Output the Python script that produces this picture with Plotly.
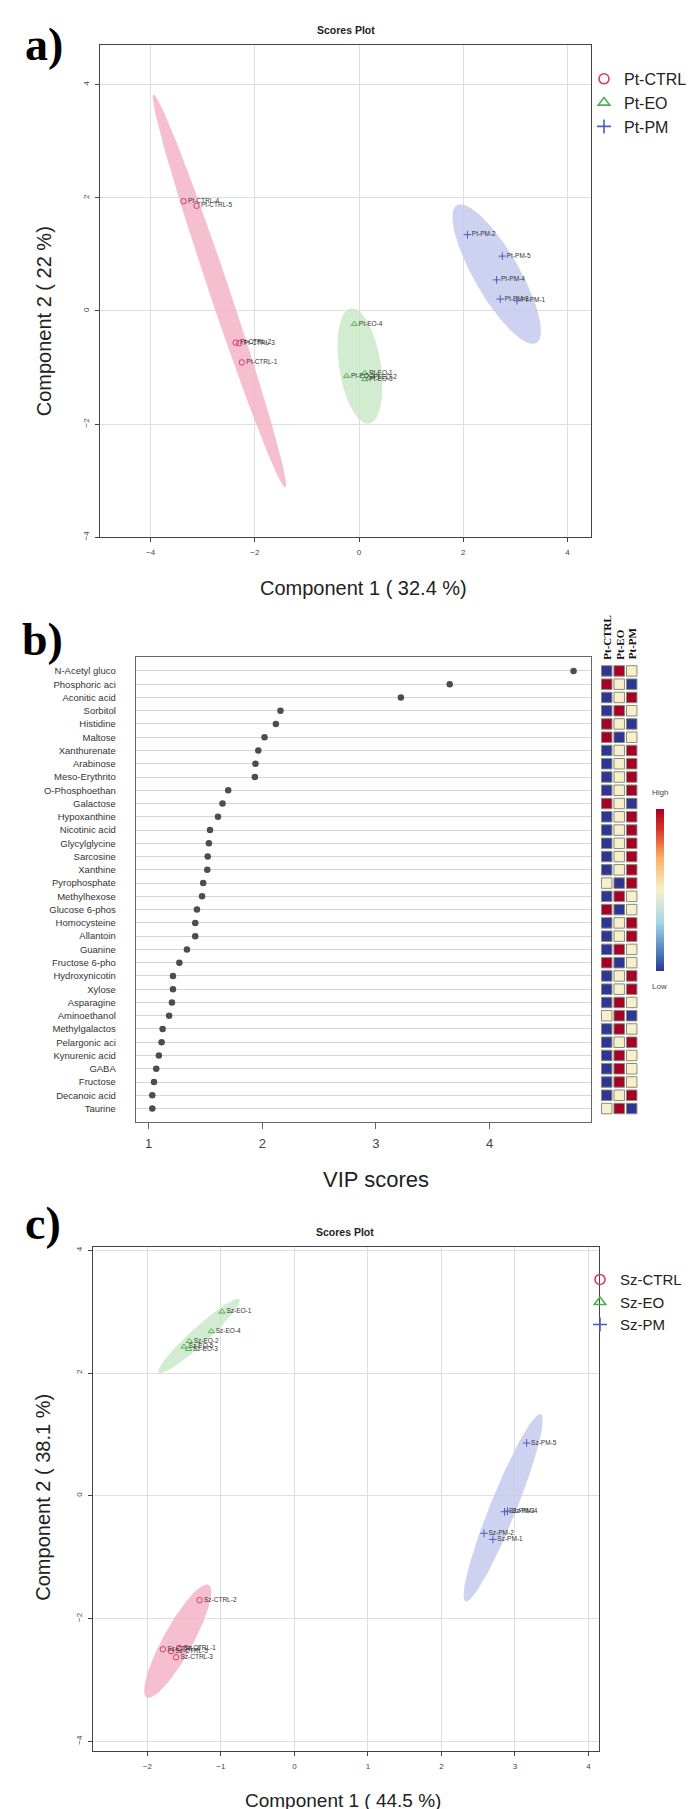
import numpy as np
import plotly.graph_objects as go

W, H = 695, 1809
def px_x(p): return p / W
def px_y(p): return 1 - p / H

FONT = "Liberation Sans"
SERIF = "Liberation Serif"

# ---------------- Panel a data (Pt) ----------------
a_ctrl_names = ["Pt-CTRL-4", "Pt-CTRL-5", "Pt-CTRL-2", "Pt-CTRL-3", "Pt-CTRL-1"]
a_ctrl_x = [-3.37, -3.12, -2.37, -2.30, -2.25]
a_ctrl_y = [1.94, 1.86, -0.56, -0.57, -0.91]
a_eo_names = ["Pt-EO-4", "Pt-EO-5", "Pt-EO-1", "Pt-EO-2", "Pt-EO-3"]
a_eo_x = [-0.09, -0.24, 0.11, 0.19, 0.11]
a_eo_y = [-0.23, -1.15, -1.10, -1.18, -1.21]
a_pm_names = ["Pt-PM-2", "Pt-PM-5", "Pt-PM-4", "Pt-PM-3", "Pt-PM-1"]
a_pm_x = [2.08, 2.75, 2.64, 2.71, 3.03]
a_pm_y = [1.35, 0.97, 0.55, 0.21, 0.18]
a_groups = ["Pt-CTRL", "Pt-EO", "Pt-PM"]

# ---------------- Panel b data (VIP) ----------------
vip_names = ["N-Acetyl gluco", "Phosphoric aci", "Aconitic acid", "Sorbitol", "Histidine",
             "Maltose", "Xanthurenate", "Arabinose", "Meso-Erythrito", "O-Phosphoethan",
             "Galactose", "Hypoxanthine", "Nicotinic acid", "Glycylglycine", "Sarcosine",
             "Xanthine", "Pyrophosphate", "Methylhexose", "Glucose 6-phos", "Homocysteine",
             "Allantoin", "Guanine", "Fructose 6-pho", "Hydroxynicotin", "Xylose",
             "Asparagine", "Aminoethanol", "Methylgalactos", "Pelargonic aci", "Kynurenic acid",
             "GABA", "Fructose", "Decanoic acid", "Taurine"]
vip_scores = [4.74, 3.65, 3.22, 2.16, 2.12, 2.02, 1.965, 1.94, 1.935, 1.70,
              1.65, 1.61, 1.54, 1.53, 1.52, 1.516, 1.48, 1.47, 1.425, 1.41,
              1.41, 1.337, 1.27, 1.214, 1.214, 1.205, 1.18, 1.123, 1.114, 1.09,
              1.067, 1.047, 1.032, 1.032]
heat_cols = ["Pt-CTRL", "Pt-EO", "Pt-PM"]
# -1 = low (blue), 0 = mid (cream), 1 = high (red)
heat_ctrl = [-1, 1, -1, -1, 1, 1, -1, -1, -1, -1, 1, -1, -1, -1, -1, -1, 0, -1, 1, -1,
             -1, -1, 1, -1, -1, -1, 0, -1, -1, -1, -1, -1, -1, 0]
heat_eo = [1, 0, 0, 1, 0, -1, 0, 0, 0, 0, 0, 0, 0, 0, 0, 0, -1, 1, -1, 0,
           0, 1, -1, 0, 0, 1, 1, 1, 0, 1, 1, 1, 0, 1]
heat_pm = [0, -1, 1, 0, -1, 0, 1, 1, 1, 1, -1, 1, 1, 1, 1, 1, 1, 0, 0, 1,
           1, 0, 0, 1, 1, 0, -1, 0, 1, 0, 0, 0, 1, -1]
vip_ticks = [1, 2, 3, 4]

# ---------------- Panel c data (Sz) ----------------
c_ctrl_names = ["Sz-CTRL-2", "Sz-CTRL-4", "Sz-CTRL-5", "Sz-CTRL-1", "Sz-CTRL-3"]
c_ctrl_x = [-1.29, -1.79, -1.68, -1.57, -1.61]
c_ctrl_y = [-1.70, -2.50, -2.53, -2.48, -2.63]
c_eo_names = ["Sz-EO-1", "Sz-EO-4", "Sz-EO-2", "Sz-EO-5", "Sz-EO-3"]
c_eo_x = [-0.985, -1.13, -1.43, -1.50, -1.44]
c_eo_y = [3.00, 2.68, 2.52, 2.43, 2.39]
c_pm_names = ["Sz-PM-5", "Sz-PM-3", "Sz-PM-4", "Sz-PM-2", "Sz-PM-1"]
c_pm_x = [3.16, 2.86, 2.90, 2.58, 2.70]
c_pm_y = [0.86, -0.26, -0.25, -0.61, -0.71]
c_groups = ["Sz-CTRL", "Sz-EO", "Sz-PM"]

# ---------------- styles ----------------
col_mark = ["#DC3A64", "#4DB04D", "#4A5CC4"]
col_fill = ["rgba(245,180,200,0.85)", "rgba(198,231,198,0.8)", "rgba(196,202,238,0.85)"]
symbols = ["circle-open", "triangle-up-open", "cross-thin-open"]


def ellipse(xs, ys, t=2.4477, n=160):
    x = np.asarray(xs, float)
    y = np.asarray(ys, float)
    cov = np.cov(x, y)
    vals, vecs = np.linalg.eigh(cov)
    ang = np.linspace(0, 2 * np.pi, n)
    circ = np.vstack([np.cos(ang), np.sin(ang)])
    pts = vecs @ (np.sqrt(np.maximum(vals, 0))[:, None] * circ) * t
    return x.mean() + pts[0], y.mean() + pts[1]


fig = go.Figure()


def add_scores(xs_list, ys_list, names_list, groups, xa, ya, legend):
    for i in range(3):
        ex, ey = ellipse(xs_list[i], ys_list[i])
        fig.add_trace(go.Scatter(x=ex, y=ey, mode="lines", fill="toself",
                                 fillcolor=col_fill[i], line=dict(width=0),
                                 hoverinfo="skip", showlegend=False, xaxis=xa, yaxis=ya))
    for i in range(3):
        fig.add_trace(go.Scatter(x=xs_list[i], y=ys_list[i], mode="markers+text",
                                 text=names_list[i], textposition="middle right",
                                 textfont=dict(size=6.5, color="#333", family=FONT),
                                 marker=dict(symbol=symbols[i], size=5.5,
                                             color=col_mark[i], line=dict(width=1, color=col_mark[i])),
                                 showlegend=False, xaxis=xa, yaxis=ya))
    for i in range(3):
        fig.add_trace(go.Scatter(x=[None], y=[None], mode="markers", name=groups[i],
                                 marker=dict(symbol=symbols[i], size=10,
                                             color=col_mark[i], line=dict(width=1.6, color=col_mark[i])),
                                 showlegend=True, legend=legend, xaxis=xa, yaxis=ya))


add_scores([a_ctrl_x, a_eo_x, a_pm_x], [a_ctrl_y, a_eo_y, a_pm_y],
           [a_ctrl_names, a_eo_names, a_pm_names], a_groups, "x", "y", "legend")
add_scores([c_ctrl_x, c_eo_x, c_pm_x], [c_ctrl_y, c_eo_y, c_pm_y],
           [c_ctrl_names, c_eo_names, c_pm_names], c_groups, "x4", "y4", "legend2")

# VIP dot plot
nrow = len(vip_names)
rows = [nrow - i for i in range(nrow)]
fig.add_trace(go.Scatter(x=vip_scores, y=rows, mode="markers",
                         marker=dict(size=6.5, color="#4d4d4d"),
                         showlegend=False, xaxis="x2", yaxis="y2"))

# heatmap cells as square markers
cs = [[0.0, "#2E3592"], [0.1, "#4575B4"], [0.3, "#A6D6E8"], [0.5, "#F6F1CC"],
      [0.7, "#FDAE61"], [0.88, "#D73027"], [1.0, "#A50026"]]
hx, hy, hv = [], [], []
for j, col in enumerate([heat_ctrl, heat_eo, heat_pm]):
    for i in range(nrow):
        hx.append(j)
        hy.append(rows[i])
        hv.append(col[i])
fig.add_trace(go.Scatter(x=hx, y=hy, mode="markers",
                         marker=dict(symbol="square", size=10.5, color=hv, colorscale=cs,
                                     cmin=-1, cmax=1, line=dict(width=1, color="#8a8a7a"),
                                     showscale=True,
                                     colorbar=dict(x=px_x(648), xanchor="left",
                                                   y=px_y(882.5), yanchor="middle",
                                                   len=161.6, lenmode="pixels",
                                                   thickness=8, thicknessmode="pixels",
                                                   outlinewidth=0, showticklabels=False,
                                                   ticks="", xpad=0, ypad=0)),
                         showlegend=False, xaxis="x3", yaxis="y5"))

score_axis = dict(showgrid=True, gridcolor="#DDDDDD", gridwidth=1, zeroline=False,
                  showline=True, mirror=True, linecolor="#444", linewidth=1,
                  ticks="outside", ticklen=4, tickcolor="#444",
                  tickfont=dict(size=8, color="#444", family=FONT))

fig.update_layout(
    width=W, height=H, margin=dict(l=0, r=0, t=0, b=0),
    paper_bgcolor="white", plot_bgcolor="white",
    xaxis=dict(score_axis, domain=[px_x(91.7), px_x(583.4)], range=[-4.98, 4.46],
               tickvals=[-4, -2, 0, 2, 4], anchor="y", ticklabelstandoff=3),
    yaxis=dict(score_axis, domain=[px_y(529.3), px_y(35.7)], range=[-4.0, 4.71],
               tickvals=[-4, -2, 0, 2, 4], tickangle=-90, anchor="x", ticklabelstandoff=3),
    xaxis2=dict(domain=[px_x(127.7), px_x(583.3)], range=[0.886, 4.896], tickvals=vip_ticks,
                showgrid=False, zeroline=False, showline=True, mirror=True, linecolor="#666",
                linewidth=1, ticks="outside", ticklen=6, tickcolor="#666",
                tickfont=dict(size=13, color="#444", family=FONT), anchor="y2",
                ticklabelstandoff=4),
    yaxis2=dict(domain=[px_y(1115), px_y(649.3)], range=[0.02, 35.06], tickvals=rows,
                ticktext=vip_names, showgrid=True, gridcolor="#D4D4D4", gridwidth=1,
                zeroline=False, showline=True, mirror=True, linecolor="#666", linewidth=1,
                ticks="", tickfont=dict(size=9.5, color="#333", family=FONT), anchor="x2",
                ticklabelstandoff=17),
    xaxis3=dict(domain=[px_x(592.45), px_x(629.95)], range=[-0.5, 2.5], visible=False,
                anchor="y5"),
    yaxis5=dict(domain=[px_y(1115), px_y(649.3)], range=[0.02, 35.06], visible=False,
                anchor="x3"),
    xaxis4=dict(score_axis, domain=[px_x(85), px_x(590.7)], range=[-2.74, 4.14],
                tickvals=[-2, -1, 0, 1, 2, 3, 4], anchor="y4", ticklabelstandoff=3),
    yaxis4=dict(score_axis, domain=[px_y(1746), px_y(1241)], range=[-4.16, 4.05],
                tickvals=[-4, -2, 0, 2, 4], tickangle=-90, anchor="x4", ticklabelstandoff=3),
    legend=dict(x=px_x(576), y=px_y(53), xanchor="left", yanchor="top",
                font=dict(size=16, family=FONT, color="#222"), bgcolor="rgba(0,0,0,0)",
                itemwidth=30, tracegroupgap=0),
    legend2=dict(x=px_x(572), y=px_y(1257), xanchor="left", yanchor="top",
                 font=dict(size=15, family=FONT, color="#222"), bgcolor="rgba(0,0,0,0)",
                 itemwidth=30, tracegroupgap=0),
)

ann = []
def A(text, x, y, size, family=FONT, color="#222", angle=0, xanchor="center", yanchor="middle", xref="paper"):
    ann.append(dict(text=text, x=x if xref != "paper" else px_x(x), y=px_y(y), xref=xref, yref="paper",
                    showarrow=False, font=dict(size=size, family=family, color=color),
                    textangle=angle, xanchor=xanchor, yanchor=yanchor))

A("<b>a)</b>", 36, 36, 46, family=SERIF, color="#000")
A("<b>b)</b>", 34, 632, 46, family=SERIF, color="#000")
A("<b>c)</b>", 35, 1217, 46, family=SERIF, color="#000")
A("<b>Scores Plot</b>", 338, 21.3, 10.5)
A("<b>Scores Plot</b>", 336.7, 1225.7, 10.5)
A("Component 1 ( 32.4 %)", 356, 580.7, 20)
A("Component 2 ( 22 %)", 36, 313, 20, angle=-90)
A("VIP scores", 368, 1173, 22)
A("Component 1 ( 44.5 %)", 335, 1795, 19)
A("Component 2 ( 38.1 %)", 35, 1492, 20, angle=-90)
A("High", 651.7, 785.3, 8, color="#444")
A("Low", 651.7, 980, 8, color="#444")
for j, name in enumerate(heat_cols):
    A("<b>" + name + "</b>", j, 654, 11, family=SERIF, color="#111", angle=-90,
      yanchor="bottom", xref="x3")

fig.update_layout(annotations=ann)
fig.write_html("out.html")
